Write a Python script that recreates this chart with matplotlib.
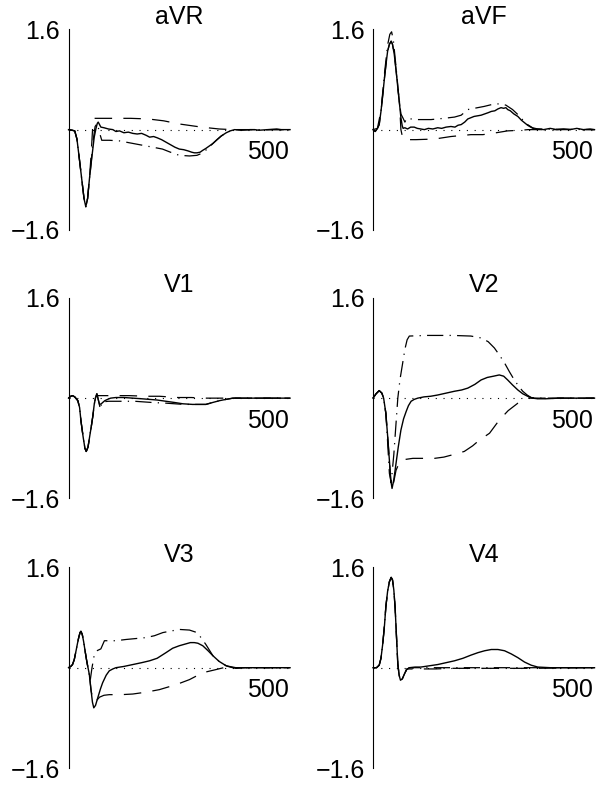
import matplotlib
matplotlib.use("Agg")
import matplotlib.pyplot as plt

plt.rcParams['font.family'] = ['Liberation Sans', 'DejaVu Sans']

# 리드 이름 (3행 x 2열)
leads = ['aVR', 'aVF', 'V1', 'V2', 'V3', 'V4']

# --- aVR ---
avr_solid_t = [0, 8, 14, 19, 24, 30, 35, 39, 43, 47, 51, 55, 58, 62, 65, 67, 70, 73, 80, 90, 100,
               107, 115, 125, 135, 145, 155, 165, 175, 183, 192, 200, 210, 220, 230, 240, 250, 260,
               270, 278, 284, 290, 297, 303, 310, 318, 326, 335, 345, 356, 365, 375, 390, 410, 420,
               430, 450, 470, 480, 500]
avr_solid_v = [0, -0.01, -0.02, -0.15, -0.44, -0.8, -1.1, -1.23, -1.1, -0.8, -0.54, -0.3, -0.12,
               0.02, 0.1, 0.12, 0.08, 0.04, 0.03, 0.01, 0.0, -0.03, -0.02, -0.05, -0.04, -0.06,
               -0.07, -0.06, -0.09, -0.12, -0.11, -0.13, -0.16, -0.2, -0.24, -0.28, -0.31, -0.32,
               -0.34, -0.36, -0.37, -0.37, -0.36, -0.33, -0.3, -0.26, -0.22, -0.16, -0.1, -0.05,
               -0.02, 0.0, -0.01, 0.0, 0.0, -0.01, 0.0, 0.01, 0.0, 0.0]
avr_dash_t = [0, 8, 14, 19, 24, 30, 35, 39, 43, 47, 51, 55, 58, 100, 140, 180, 215, 250, 280,
              300, 340, 370, 500]
avr_dash_v = [0, -0.01, -0.02, -0.15, -0.44, -0.8, -1.1, -1.23, -1.1, -0.8, -0.4, 0.1, 0.18,
              0.18, 0.18, 0.17, 0.14, 0.09, 0.06, 0.04, 0.01, 0.0, 0.0]
avr_dot_t = [0, 8, 14, 19, 24, 30, 35, 39, 43, 47, 51, 55, 60, 65, 70, 75, 92, 115, 130, 160,
             190, 212, 230, 250, 273, 290, 300, 315, 326, 345, 365, 380, 500]
avr_dot_v = [0, -0.01, -0.02, -0.15, -0.44, -0.8, -1.1, -1.23, -1.1, -0.8, -0.54, -0.2, 0.05,
             0.1, -0.05, -0.17, -0.17, -0.18, -0.2, -0.24, -0.28, -0.31, -0.36, -0.41, -0.42,
             -0.41, -0.38, -0.3, -0.22, -0.1, -0.02, 0.0, 0.0]

# --- aVF ---
avf_solid_t = [0, 5, 10, 14, 18, 22, 26, 30, 33, 37, 41, 44, 48, 52, 56, 60, 63, 66, 68, 72, 78,
               85, 93, 100, 108, 116, 125, 135, 146, 155, 165, 176, 185, 192, 199, 207, 214, 221,
               228, 236, 244, 252, 260, 267, 275, 282, 289, 295, 300, 304, 310, 318, 327, 335,
               342, 349, 356, 364, 372, 385, 400, 415, 430, 445, 460, 475, 490, 500]
avf_solid_v = [0, -0.03, 0.02, 0.08, 0.29, 0.55, 0.83, 1.08, 1.25, 1.36, 1.41, 1.36, 1.2, 0.95,
               0.67, 0.4, 0.19, 0.06, 0.02, 0.03, 0.01, 0.04, 0.04, 0.02, 0.01, 0.0, 0.02, 0.01,
               0.03, 0.02, 0.04, 0.05, 0.04, 0.07, 0.08, 0.12, 0.17, 0.19, 0.21, 0.22, 0.23, 0.25,
               0.27, 0.29, 0.3, 0.33, 0.35, 0.34, 0.35, 0.32, 0.3, 0.25, 0.21, 0.15, 0.11, 0.07,
               0.04, 0.01, 0.01, 0.0, 0.02, 0.0, 0.01, 0.0, 0.02, 0.0, 0.01, 0.0]
avf_dash_t = [0, 5, 10, 14, 18, 22, 26, 30, 33, 37, 41, 44, 48, 52, 56, 60, 63, 66, 70, 97, 139,
              176, 221, 248, 278, 304, 334, 350, 500]
avf_dash_v = [0, -0.03, 0.02, 0.08, 0.29, 0.55, 0.83, 1.08, 1.25, 1.36, 1.41, 1.36, 1.2, 0.95,
              0.67, 0.4, 0.0, -0.1, -0.16, -0.16, -0.15, -0.11, -0.08, -0.08, -0.05, -0.02,
              -0.01, 0.0, 0.0]
avf_dot_t = [0, 10, 18, 26, 33, 38, 42, 46, 52, 58, 63, 68, 72, 76, 97, 131, 160, 184, 199, 214,
             251, 274, 290, 300, 315, 327, 340, 349, 360, 372, 500]
avf_dot_v = [0, 0.02, 0.3, 0.9, 1.35, 1.52, 1.56, 1.42, 1.0, 0.55, 0.25, 0.18, 0.12, 0.18, 0.16,
             0.16, 0.18, 0.2, 0.23, 0.32, 0.37, 0.41, 0.41, 0.39, 0.32, 0.24, 0.14, 0.08, 0.03,
             0.01, 0.0]

# --- V1 ---
v1_solid_t = [0, 5, 9, 14, 21, 25, 28, 33, 37, 40, 44, 48, 51, 55, 58, 61, 64, 67, 70, 74, 77,
              82, 88, 95, 107, 125, 145, 165, 183, 200, 220, 240, 258, 280, 300, 310, 325, 341,
              355, 371, 400, 450, 500]
v1_solid_v = [0, 0.03, 0.04, 0.02, -0.04, -0.15, -0.36, -0.62, -0.8, -0.85, -0.78, -0.6, -0.47,
              -0.28, -0.1, 0.01, 0.07, -0.02, -0.1, -0.09, -0.07, -0.04, -0.02, 0.0, 0.01, 0.01,
              0.0, -0.01, -0.02, -0.03, -0.05, -0.07, -0.09, -0.1, -0.1, -0.1, -0.07, -0.04,
              -0.02, 0.0, 0.0, 0.0, 0.0]
v1_dash_t = [0, 5, 9, 14, 21, 25, 28, 33, 37, 40, 44, 48, 51, 55, 58, 61, 64, 70, 137, 175, 205,
             247, 277, 310, 500]
v1_dash_v = [0, 0.03, 0.04, 0.02, -0.04, -0.15, -0.36, -0.62, -0.8, -0.85, -0.78, -0.6, -0.47,
             -0.28, -0.1, 0.01, 0.04, 0.04, 0.04, 0.03, 0.03, 0.01, 0.01, 0.0, 0.0]
v1_dot_t = [0, 5, 9, 14, 21, 25, 28, 33, 37, 40, 44, 48, 51, 55, 58, 61, 64, 68, 72, 75, 90,
            150, 190, 220, 260, 300, 310, 325, 341, 371, 500]
v1_dot_v = [0, 0.03, 0.04, 0.02, -0.04, -0.15, -0.36, -0.62, -0.8, -0.85, -0.78, -0.6, -0.47,
            -0.28, -0.1, 0.01, 0.07, -0.05, -0.18, -0.06, -0.05, -0.05, -0.07, -0.08, -0.1,
            -0.1, -0.1, -0.07, -0.04, 0.0, 0.0]

# --- V2 ---
v2_solid_t = [0, 7, 14, 20, 24, 29, 33, 37, 40, 43, 47, 52, 57, 63, 69, 75, 80, 86, 93, 101, 115,
              130, 146, 165, 184, 200, 214, 230, 244, 258, 272, 285, 295, 304, 315, 327, 338,
              349, 360, 372, 390, 420, 450, 500]
v2_solid_v = [0, 0.07, 0.12, 0.08, 0.0, -0.24, -0.6, -0.99, -1.3, -1.44, -1.3, -1.04, -0.78,
              -0.51, -0.33, -0.21, -0.12, -0.05, -0.02, 0.0, 0.02, 0.03, 0.05, 0.08, 0.11, 0.13,
              0.16, 0.22, 0.29, 0.33, 0.35, 0.37, 0.35, 0.29, 0.21, 0.13, 0.07, 0.03, 0.0,
              -0.01, -0.01, 0.0, 0.0, 0.0]
v2_dash_t = [0, 7, 14, 20, 24, 29, 33, 37, 40, 43, 47, 52, 60, 70, 90, 139, 160, 176, 206, 225,
             240, 263, 285, 305, 327, 340, 350, 500]
v2_dash_v = [0, 0.07, 0.12, 0.08, 0.0, -0.24, -0.6, -0.99, -1.3, -1.44, -1.33, -1.15, -1.02,
             -0.98, -0.96, -0.96, -0.94, -0.91, -0.85, -0.76, -0.67, -0.56, -0.35, -0.2, -0.08,
             -0.03, 0.0, 0.0]
v2_dot_t = [0, 7, 14, 20, 24, 29, 33, 37, 41, 47, 52, 56, 61, 67, 72, 77, 82, 120, 180, 221,
            244, 260, 274, 286, 297, 308, 319, 330, 338, 348, 357, 370, 500]
v2_dot_v = [0, 0.07, 0.12, 0.08, 0.0, -0.24, -0.7, -1.2, -1.35, -0.9, -0.4, 0.0, 0.3, 0.56,
            0.78, 0.93, 0.99, 1.0, 1.0, 0.99, 0.96, 0.9, 0.8, 0.68, 0.56, 0.42, 0.29, 0.18,
            0.11, 0.05, 0.01, 0.0, 0.0]

# --- V3 ---
v3_solid_t = [0, 5, 9, 13, 17, 20, 23, 26, 28, 31, 34, 38, 41, 44, 47, 51, 54, 57, 61, 66, 72,
              77, 85, 92, 100, 107, 125, 145, 165, 183, 200, 220, 235, 250, 265, 275, 284, 292,
              303, 315, 326, 340, 356, 365, 378, 400, 450, 500]
v3_solid_v = [0, 0.02, 0.05, 0.13, 0.27, 0.38, 0.48, 0.56, 0.58, 0.53, 0.42, 0.24, 0.11, 0.0,
              -0.11, -0.37, -0.55, -0.64, -0.6, -0.48, -0.34, -0.24, -0.12, -0.05, -0.02, 0.0,
              0.02, 0.05, 0.08, 0.11, 0.15, 0.24, 0.31, 0.35, 0.38, 0.4, 0.4, 0.39, 0.35, 0.27,
              0.19, 0.1, 0.03, 0.01, -0.01, 0.0, 0.0, 0.0]
v3_dash_t = [0, 5, 9, 13, 17, 20, 23, 26, 28, 31, 34, 38, 41, 44, 47, 51, 55, 60, 70, 80, 92,
             119, 145, 175, 205, 243, 273, 303, 333, 350, 500]
v3_dash_v = [0, 0.02, 0.05, 0.13, 0.27, 0.38, 0.48, 0.56, 0.58, 0.53, 0.42, 0.24, 0.11, 0.0,
             -0.11, -0.37, -0.5, -0.55, -0.47, -0.44, -0.43, -0.43, -0.42, -0.39, -0.35, -0.27,
             -0.19, -0.08, -0.03, 0.0, 0.0]
v3_dot_t = [0, 5, 9, 13, 17, 20, 23, 26, 28, 31, 34, 38, 41, 45, 49, 53, 58, 64, 73, 81, 107,
            130, 175, 194, 213, 250, 273, 290, 299, 310, 318, 326, 340, 356, 378, 500]
v3_dot_v = [0, 0.02, 0.05, 0.13, 0.27, 0.38, 0.48, 0.56, 0.58, 0.53, 0.42, 0.24, 0.11, -0.05,
            -0.2, 0.0, 0.2, 0.27, 0.3, 0.43, 0.43, 0.45, 0.48, 0.51, 0.56, 0.61, 0.6, 0.56,
            0.48, 0.37, 0.28, 0.19, 0.1, 0.03, 0.0, 0.0]

# --- V4 ---
v4_solid_t = [0, 8, 14, 18, 22, 26, 29, 33, 37, 41, 44, 47, 50, 52, 54, 56, 59, 62, 66, 71, 76,
              82, 95, 108, 127, 146, 165, 184, 203, 221, 237, 252, 267, 282, 297, 312, 327, 342,
              357, 372, 400, 450, 500]
v4_solid_v = [0, 0.0, 0.04, 0.15, 0.38, 0.68, 0.97, 1.22, 1.37, 1.44, 1.4, 1.24, 0.95, 0.65,
              0.35, 0.06, -0.12, -0.2, -0.18, -0.1, -0.03, 0.0, 0.01, 0.01, 0.03, 0.05, 0.08,
              0.11, 0.15, 0.2, 0.24, 0.27, 0.29, 0.29, 0.27, 0.22, 0.16, 0.09, 0.04, 0.01, 0.0,
              0.0, 0.0]
v4_dash_t = [0, 8, 14, 18, 22, 26, 29, 33, 37, 41, 44, 47, 50, 52, 54, 56, 59, 62, 66, 71, 76,
             82, 140, 180, 360, 500]
v4_dash_v = [0, 0.0, 0.04, 0.15, 0.38, 0.68, 0.97, 1.22, 1.37, 1.44, 1.4, 1.24, 0.95, 0.65,
             0.35, 0.06, -0.12, -0.2, -0.18, -0.1, -0.02, -0.02, -0.02, -0.01, -0.01, 0.0]
v4_dot_t = [0, 8, 14, 18, 22, 26, 29, 33, 37, 41, 44, 47, 50, 52, 54, 56, 59, 62, 66, 71, 76,
            82, 500]
v4_dot_v = [0, 0.0, 0.04, 0.15, 0.38, 0.68, 0.97, 1.22, 1.37, 1.44, 1.4, 1.24, 0.95, 0.65,
            0.35, 0.06, -0.12, -0.2, -0.18, -0.1, -0.03, 0.0, 0.0]

traces = {
    'aVR': [(avr_solid_t, avr_solid_v), (avr_dash_t, avr_dash_v), (avr_dot_t, avr_dot_v)],
    'aVF': [(avf_solid_t, avf_solid_v), (avf_dash_t, avf_dash_v), (avf_dot_t, avf_dot_v)],
    'V1': [(v1_solid_t, v1_solid_v), (v1_dash_t, v1_dash_v), (v1_dot_t, v1_dot_v)],
    'V2': [(v2_solid_t, v2_solid_v), (v2_dash_t, v2_dash_v), (v2_dot_t, v2_dot_v)],
    'V3': [(v3_solid_t, v3_solid_v), (v3_dash_t, v3_dash_v), (v3_dot_t, v3_dot_v)],
    'V4': [(v4_solid_t, v4_solid_v), (v4_dash_t, v4_dash_v), (v4_dot_t, v4_dot_v)],
}

y_lim = 1.6
t_end = 500

fig = plt.figure(figsize=(5.99, 7.87), dpi=100)

# 축 위치 (figure 비율)
col_left = [0.1144, 0.6227]
row_bottom = [0.7078, 0.3666, 0.0241]
ax_w, ax_h = 0.3698, 0.255

styles = [
    dict(linestyle='-', lw=1.0),
    dict(linestyle=(0, (14, 9)), lw=0.9),
    dict(linestyle=(0, (13, 5, 1, 5)), lw=0.9),
]

for i, name in enumerate(leads):
    r, c = divmod(i, 2)
    ax = fig.add_axes([col_left[c], row_bottom[r], ax_w, ax_h])

    # 기준선 (점선)
    ax.plot([0, t_end], [0, 0], color='black', lw=0.8, linestyle=(0, (1, 6)))

    for (t, v), st in zip(traces[name], styles):
        ax.plot(t, v, color='black', clip_on=False, **st)

    ax.set_xlim(0, t_end)
    ax.set_ylim(-y_lim, y_lim)
    for s in ['top', 'right', 'bottom']:
        ax.spines[s].set_visible(False)
    ax.spines['left'].set_linewidth(0.8)
    ax.set_xticks([])
    ax.set_yticks([-y_lim, y_lim])
    ax.set_yticklabels(['\u22121.6', '1.6'], fontsize=18)
    ax.tick_params(axis='y', length=0, pad=6)
    ax.set_title(name, fontsize=18, pad=4)
    ax.text(t_end - 3, -0.17, '500', ha='right', va='top', fontsize=18)

plt.savefig('out.png', dpi=100)
